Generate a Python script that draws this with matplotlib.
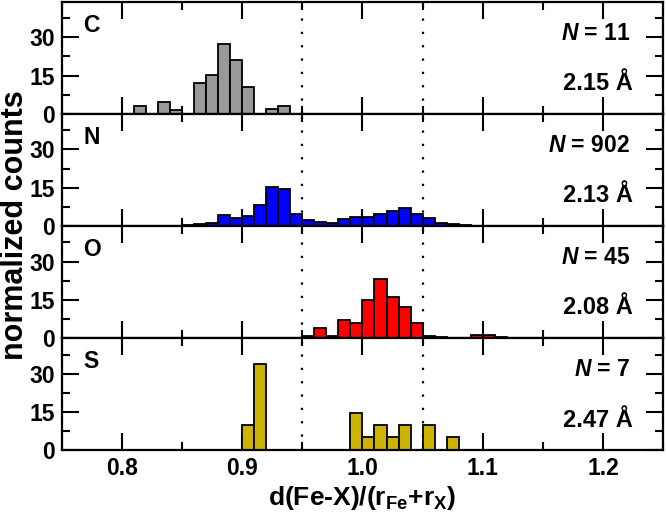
import numpy as np
import matplotlib
matplotlib.use("Agg")
import matplotlib.pyplot as plt
from matplotlib.ticker import MultipleLocator, FormatStrFormatter

plt.rcParams['font.family'] = ['Liberation Sans', 'DejaVu Sans']
plt.rcParams['font.weight'] = 'bold'
plt.rcParams['mathtext.fontset'] = 'custom'
plt.rcParams['mathtext.rm'] = 'Liberation Sans:bold'
plt.rcParams['mathtext.it'] = 'Liberation Sans:italic:bold'
plt.rcParams['mathtext.bf'] = 'Liberation Sans:bold'

# ── Data (left bin edges, bin width 0.01; normalized counts in %) ──
bin_width = 0.01

c_edges = [0.81, 0.83, 0.84, 0.86, 0.87, 0.88, 0.89, 0.90, 0.92, 0.93]
c_counts = [3.0, 4.6, 1.6, 12.2, 15.1, 27.4, 21.3, 10.5, 1.7, 3.0]

n_edges = [0.85, 0.86, 0.87, 0.88, 0.89, 0.90, 0.91, 0.92, 0.93, 0.94, 0.95, 0.96,
           0.97, 0.98, 0.99, 1.00, 1.01, 1.02, 1.03, 1.04, 1.05, 1.06, 1.07, 1.08]
n_counts = [0.2, 0.6, 1.1, 4.2, 3.0, 4.0, 8.3, 15.3, 14.3, 4.5, 2.4, 1.7,
            1.2, 2.8, 3.6, 3.4, 4.7, 5.9, 7.0, 4.5, 3.0, 1.1, 0.7, 0.2]

o_edges = [0.95, 0.96, 0.97, 0.98, 0.99, 1.00, 1.01, 1.02, 1.03, 1.04, 1.05, 1.06,
           1.09, 1.10, 1.11]
o_counts = [0.7, 3.9, 0.9, 7.2, 5.7, 14.9, 23.0, 16.2, 12.2, 5.9, 0.9, 0.5,
            1.0, 1.3, 0.3]

s_edges = [0.90, 0.91, 0.99, 1.00, 1.01, 1.02, 1.03, 1.05, 1.07]
s_counts = [10.0, 33.8, 14.7, 5.0, 9.9, 5.0, 9.9, 9.9, 5.2]

panel_labels = ["C", "N", "O", "S"]
panel_n = [11, 902, 45, 7]
panel_dist = ["2.15", "2.13", "2.08", "2.47"]
colors = ["#999999", "#0000ff", "#ff0000", "#ccb400"]
edges_all = [c_edges, n_edges, o_edges, s_edges]
counts_all = [c_counts, n_counts, o_counts, s_counts]
ref_lines = [0.95, 1.05]

fig, axes = plt.subplots(4, 1, sharex=True, figsize=(6.66, 5.12), dpi=100)
fig.subplots_adjust(left=0.093, right=0.9955, top=0.9967, bottom=0.121, hspace=0)

for ax, lab, n, d, col, ed, ct in zip(axes, panel_labels, panel_n, panel_dist,
                                       colors, edges_all, counts_all):
    ax.bar(ed, ct, width=bin_width, align='edge', color=col,
           edgecolor='black', linewidth=1.3, zorder=2)
    for xv in ref_lines:
        ax.axvline(xv, color='black', linestyle=(0, (1, 5)), linewidth=1.6, zorder=1)
    ax.set_xlim(0.75, 1.25)
    ax.set_ylim(0, 44)
    ax.yaxis.set_major_locator(MultipleLocator(15))
    ax.yaxis.set_minor_locator(MultipleLocator(7.5))
    ax.xaxis.set_major_locator(MultipleLocator(0.1))
    ax.xaxis.set_minor_locator(MultipleLocator(0.05))
    ax.set_yticks([0, 15, 30])
    ax.tick_params(which='both', direction='in', top=True, right=True, width=1.5,
                   labelsize=16.5)
    ax.tick_params(which='major', length=12, pad=5)
    ax.tick_params(which='minor', length=6)
    for sp in ax.spines.values():
        sp.set_linewidth(1.6)
    ax.text(0.036, 0.732, lab, transform=ax.transAxes, fontsize=16.5,
            fontweight='bold', ha='left', va='baseline')
    ax.text(0.945, 0.658, r"$\mathit{N}$ = %d" % n, transform=ax.transAxes,
            fontsize=16.5, ha='right', va='baseline')
    ax.text(0.95, 0.21, "%s Å" % d, transform=ax.transAxes, fontsize=17,
            fontweight='bold', ha='right', va='baseline')

axes[-1].xaxis.set_major_formatter(FormatStrFormatter('%.1f'))
axes[-1].set_xlabel(r"d(Fe-X)/(r$_{\mathrm{Fe}}$+r$_{\mathrm{X}}$)", fontsize=19,
                    fontweight='bold', labelpad=3)
fig.text(0.022, 0.56, "normalized counts", rotation=90, fontsize=22,
         fontweight='bold', ha='center', va='center')

plt.savefig("out.png", dpi=100)
plt.close()
